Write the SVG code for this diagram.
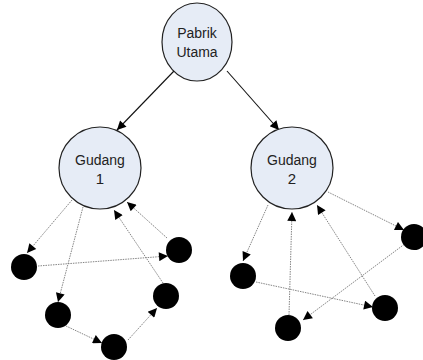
<svg xmlns="http://www.w3.org/2000/svg" width="423" height="360" viewBox="0 0 423 360">
<style>
.big{fill:#e6ecf6;stroke:#222;stroke-width:1.2}
.dot{fill:#000}
.t{font-family:"Liberation Sans",Arial,sans-serif;font-size:14px;fill:#222;text-anchor:middle}
.solid{stroke:#111;stroke-width:1.1;fill:none}
.dash{stroke:#777;stroke-width:0.9;stroke-dasharray:1.5,1;fill:none}
</style>
<defs>
<marker id="ah" viewBox="0 0 10 10" refX="10" refY="5" markerWidth="11" markerHeight="9" markerUnits="userSpaceOnUse" orient="auto">
<path d="M0,0 L10,5 L0,10 Z" fill="#000"/>
</marker>
</defs>
<rect width="423" height="360" fill="#fff"/>
<g id="connectors">
<line class="solid" x1="174" y1="71" x2="117" y2="130" marker-end="url(#ah)"/>
<line class="solid" x1="227" y1="71" x2="279" y2="130" marker-end="url(#ah)"/>
<line class="dash" x1="72" y1="200" x2="27" y2="253" marker-end="url(#ah)"/>
<line class="dash" x1="38" y1="266" x2="168" y2="256" marker-end="url(#ah)"/>
<line class="dash" x1="83" y1="207" x2="58" y2="302" marker-end="url(#ah)"/>
<line class="dash" x1="66" y1="326" x2="102" y2="343" marker-end="url(#ah)"/>
<line class="dash" x1="128" y1="340" x2="157" y2="308" marker-end="url(#ah)"/>
<line class="dash" x1="163" y1="283" x2="114" y2="210" marker-end="url(#ah)"/>
<line class="dash" x1="167" y1="238" x2="127" y2="202" marker-end="url(#ah)"/>
<line class="dash" x1="268" y1="205" x2="243" y2="261" marker-end="url(#ah)"/>
<line class="dash" x1="328" y1="192" x2="404" y2="230" marker-end="url(#ah)"/>
<line class="dash" x1="256" y1="282" x2="373" y2="307" marker-end="url(#ah)"/>
<line class="dash" x1="406" y1="243" x2="303" y2="320" marker-end="url(#ah)"/>
<line class="dash" x1="289" y1="315" x2="292" y2="212" marker-end="url(#ah)"/>
<line class="dash" x1="375" y1="296" x2="317" y2="205" marker-end="url(#ah)"/>
</g>
<g id="pabrik">
<ellipse class="big" cx="197" cy="42" rx="35" ry="39"/>
<text class="t" x="197" y="38">Pabrik</text>
<text class="t" x="197" y="57">Utama</text>
</g>
<g id="gudang1">
<circle class="big" cx="100" cy="168" r="41"/>
<text class="t" x="100" y="165">Gudang</text>
<text class="t" x="100" y="184" style="font-size:15px">1</text>
</g>
<g id="gudang2">
<circle class="big" cx="292" cy="168" r="41"/>
<text class="t" x="292" y="165">Gudang</text>
<text class="t" x="292" y="184" style="font-size:15px">2</text>
</g>
<g id="d1a"><circle class="dot" cx="24" cy="267" r="13"/></g>
<g id="d1b"><circle class="dot" cx="179" cy="250" r="13"/></g>
<g id="d1c"><circle class="dot" cx="58" cy="315" r="13"/></g>
<g id="d1d"><circle class="dot" cx="166" cy="296" r="13"/></g>
<g id="d1e"><circle class="dot" cx="114" cy="347" r="13"/></g>
<g id="d2f"><circle class="dot" cx="414" cy="237" r="13"/></g>
<g id="d2g"><circle class="dot" cx="243" cy="276" r="13"/></g>
<g id="d2h"><circle class="dot" cx="385" cy="308" r="13"/></g>
<g id="d2i"><circle class="dot" cx="288" cy="328" r="13"/></g>
</svg>
